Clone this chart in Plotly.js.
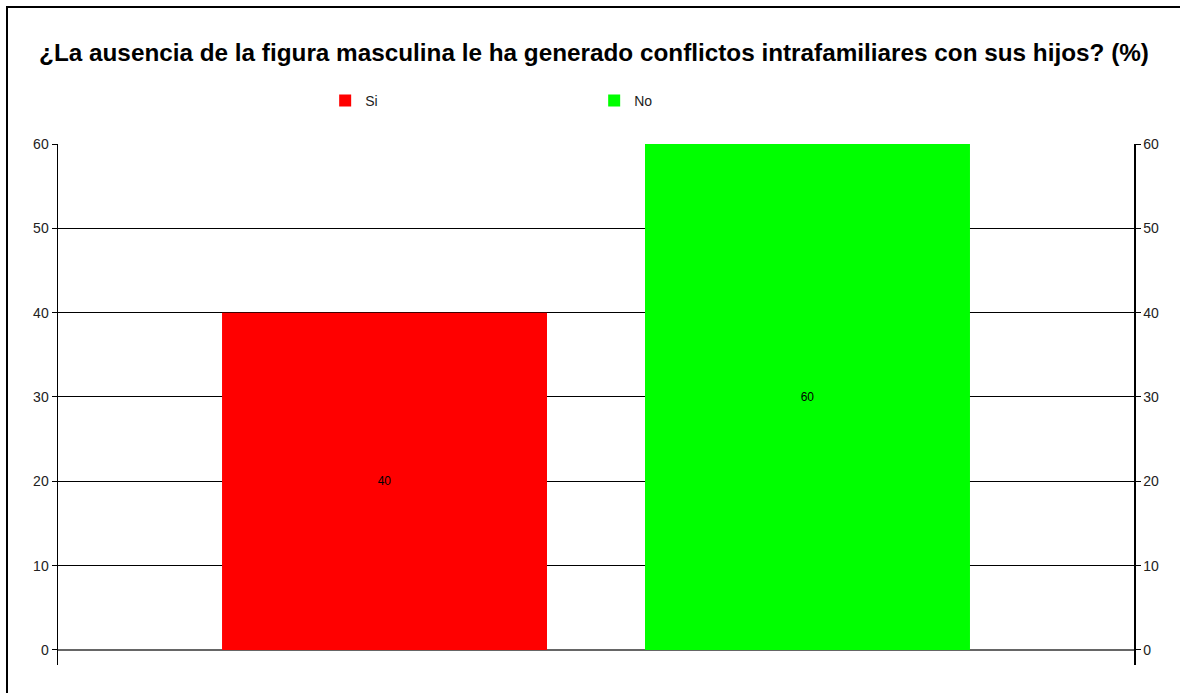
<!DOCTYPE html>
<html>
<head>
<meta charset="utf-8">
<script src="https://cdn.plot.ly/plotly-3.0.1.min.js"></script>
<style>
  html, body { margin: 0; padding: 0; background: #fff; }
  #wrap { position: relative; width: 1180px; height: 693px; }
  #chart { width: 1180px; height: 693px; }
  #frame { position: absolute; left: 6px; top: 6px; right: 0; bottom: 0;
           border-left: 2px solid #000; border-top: 2px solid #000; pointer-events: none; }
</style>
</head>
<body>
<div id="wrap"><div id="chart"></div><div id="frame"></div></div>
<script>
const chartTitle = "¿La ausencia de la figura masculina le ha generado conflictos intrafamiliares con sus hijos? (%)";
const categories = [""];
const seriesNames = ["Si", "No"];
const seriesValues = [[40], [60]];
const seriesColors = ["#ff0000", "#00ff00"];
const yTickValues = [0, 10, 20, 30, 40, 50, 60];

const fontFam = "Liberation Sans, Arial, sans-serif";

const traces = seriesNames.map((name, i) => ({
  type: "bar",
  name: name,
  x: categories,
  y: seriesValues[i],
  text: seriesValues[i].map(String),
  textposition: "inside",
  insidetextanchor: "middle",
  textangle: 0,
  textfont: { family: fontFam, size: 12, color: "#000" },
  marker: { color: seriesColors[i] },
  hoverinfo: "name+y"
}));

// invisible helper trace so the right-hand axis is drawn
traces.push({
  type: "scatter", mode: "markers", x: categories, y: [null], yaxis: "y2",
  showlegend: false, hoverinfo: "skip", marker: { opacity: 0 }
});

const yRange = [-1.78, 60];
const axisCommon = {
  range: yRange,
  tickvals: yTickValues,
  ticktext: yTickValues.map(String),
  ticks: "outside",
  ticklen: 5,
  tickcolor: "#000",
  tickwidth: 1,
  showline: true,
  linecolor: "#000",
  linewidth: 1.5,
  tickfont: { family: fontFam, size: 14, color: "#222" },
  fixedrange: true
};

const layout = {
  width: 1180,
  height: 693,
  paper_bgcolor: "#fff",
  plot_bgcolor: "#fff",
  margin: { l: 58, r: 46, t: 144, b: 28, pad: 0 },
  title: {
    text: "<b>" + chartTitle + "</b>",
    font: { family: fontFam, size: 24.3, color: "#000" },
    x: 594 / 1180, xanchor: "center",
    y: 1 - 52 / 693, yanchor: "middle"
  },
  barmode: "group",
  bargap: 0.2138,
  bargroupgap: 0.2317,
  showlegend: true,
  legend: {
    orientation: "h",
    x: 0.2483, xanchor: "left",
    y: 1.0825, yanchor: "middle",
    entrywidth: 224, entrywidthmode: "pixels",
    font: { family: fontFam, size: 14, color: "#222" },
    bgcolor: "rgba(0,0,0,0)"
  },
  xaxis: {
    showticklabels: false, showgrid: false, showline: false, zeroline: false, ticks: "",
    fixedrange: true
  },
  yaxis: Object.assign({}, axisCommon, {
    side: "left",
    showgrid: true, gridcolor: "#000", gridwidth: 1,
    zeroline: true, zerolinecolor: "#666", zerolinewidth: 2
  }),
  yaxis2: Object.assign({}, axisCommon, {
    side: "right", overlaying: "y",
    showgrid: false, zeroline: false
  })
};

Plotly.newPlot("chart", traces, layout, { displayModeBar: false, staticPlot: true });
</script>
</body>
</html>
